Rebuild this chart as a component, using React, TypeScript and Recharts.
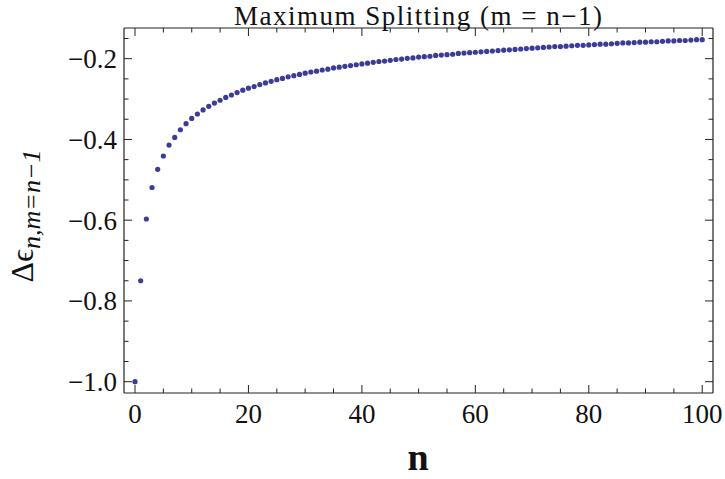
import React from "react";
import { ScatterChart, Scatter, XAxis, YAxis } from "recharts";

const nValues: number[] = [
  0, 1, 2, 3, 4, 5, 6, 7, 8, 9, 10, 11, 12, 13, 14, 15, 16, 17, 18, 19, 20,
  21, 22, 23, 24, 25, 26, 27, 28, 29, 30, 31, 32, 33, 34, 35, 36, 37, 38, 39, 40,
  41, 42, 43, 44, 45, 46, 47, 48, 49, 50, 51, 52, 53, 54, 55, 56, 57, 58, 59, 60,
  61, 62, 63, 64, 65, 66, 67, 68, 69, 70, 71, 72, 73, 74, 75, 76, 77, 78, 79, 80,
  81, 82, 83, 84, 85, 86, 87, 88, 89, 90, 91, 92, 93, 94, 95, 96, 97, 98, 99, 100,
];

const deltaValues: number[] = [
  -1.0, -0.75, -0.597, -0.519, -0.474, -0.441, -0.414, -0.395, -0.376, -0.361, -0.348,
  -0.337, -0.327, -0.318, -0.31, -0.303, -0.296, -0.29, -0.284, -0.278, -0.273,
  -0.269, -0.264, -0.26, -0.256, -0.252, -0.249, -0.245, -0.242, -0.239, -0.236,
  -0.233, -0.231, -0.228, -0.226, -0.223, -0.221, -0.219, -0.217, -0.215, -0.213,
  -0.211, -0.209, -0.207, -0.206, -0.204, -0.202, -0.201, -0.199, -0.198, -0.196,
  -0.195, -0.194, -0.192, -0.191, -0.19, -0.189, -0.187, -0.186, -0.185, -0.184,
  -0.183, -0.182, -0.181, -0.18, -0.179, -0.178, -0.177, -0.176, -0.175, -0.174,
  -0.173, -0.172, -0.171, -0.17, -0.17, -0.169, -0.168, -0.167, -0.167, -0.166,
  -0.165, -0.164, -0.164, -0.163, -0.162, -0.161, -0.161, -0.16, -0.159, -0.159,
  -0.158, -0.158, -0.157, -0.156, -0.156, -0.155, -0.155, -0.154, -0.153, -0.153,
];

const xTicks: number[] = [
  0, 5, 10, 15, 20, 25, 30, 35, 40, 45, 50, 55, 60, 65, 70, 75, 80, 85, 90, 95, 100,
];
const xMajorTicks: number[] = [0, 20, 40, 60, 80, 100];

const yTicks: number[] = [
  -1.0, -0.95, -0.9, -0.85, -0.8, -0.75, -0.7, -0.65, -0.6, -0.55, -0.5, -0.45,
  -0.4, -0.35, -0.3, -0.25, -0.2, -0.15,
];
const yMajorTicks: number[] = [-1.0, -0.8, -0.6, -0.4, -0.2];

const titleText = "Maximum Splitting (m = n\u22121)";
const xLabelText = "n";
const yLabelMain = "\u0394\u03f5";
const yLabelSub = "n,m=n\u22121";

const data = nValues.map((n, i) => ({ n, v: deltaValues[i] }));

const FONT = "'Liberation Serif', 'DejaVu Serif', serif";
const FRAME = "#222";
const POINT = "#3b3b98";
const MAJOR = 8;
const MINOR = 4.5;
const serif: React.CSSProperties = { fontFamily: FONT };

const isMajorX = (v: number) => xMajorTicks.some((t) => Math.abs(t - v) < 1e-6);
const isMajorY = (v: number) => yMajorTicks.some((t) => Math.abs(t - v) < 1e-6);
const fmtY = (v: number) => (v < 0 ? "\u2212" : "") + Math.abs(v).toFixed(1);

const BottomTick = (props: any) => {
  const { x, y, payload } = props;
  const major = isMajorX(payload.value);
  return (
    <g>
      <line x1={x} x2={x} y1={y} y2={y - (major ? MAJOR : MINOR)} stroke={FRAME} strokeWidth={1} />
      {major && (
        <text x={x} y={y + 30} textAnchor="middle" style={{ ...serif, fontSize: 27 }} fill="#111">
          {payload.value}
        </text>
      )}
    </g>
  );
};

const TopTick = (props: any) => {
  const { x, y, payload } = props;
  const major = isMajorX(payload.value);
  return <line x1={x} x2={x} y1={y} y2={y + (major ? MAJOR : MINOR)} stroke={FRAME} strokeWidth={1} />;
};

const LeftTick = (props: any) => {
  const { x, y, payload } = props;
  const major = isMajorY(payload.value);
  return (
    <g>
      <line x1={x} x2={x + (major ? MAJOR : MINOR)} y1={y} y2={y} stroke={FRAME} strokeWidth={1} />
      {major && (
        <text x={x - 7} y={y + 9.5} textAnchor="end" style={{ ...serif, fontSize: 27 }} fill="#111">
          {fmtY(payload.value)}
        </text>
      )}
    </g>
  );
};

const RightTick = (props: any) => {
  const { x, y, payload } = props;
  const major = isMajorY(payload.value);
  return <line x1={x} x2={x - (major ? MAJOR : MINOR)} y1={y} y2={y} stroke={FRAME} strokeWidth={1} />;
};

const Dot = (props: any) => {
  const { cx, cy } = props;
  return <circle cx={cx} cy={cy} r={2.6} fill={POINT} />;
};

export default function App() {
  const xDomain: [number, number] = [-1.94, 101.9];
  const yDomain: [number, number] = [-1.028, -0.124];
  return (
    <div style={{ position: "absolute", left: 0, top: 0, width: 725, height: 479, background: "#fff" }}>
      <ScatterChart width={725} height={479} margin={{ top: 23, right: 7, bottom: 46, left: 64 }}>
        <XAxis
          xAxisId="bottom"
          dataKey="n"
          type="number"
          orientation="bottom"
          domain={xDomain}
          allowDataOverflow
          ticks={xTicks}
          interval={0}
          height={40}
          tickSize={0}
          tickMargin={0}
          tickLine={false}
          tick={<BottomTick />}
          axisLine={{ stroke: FRAME, strokeWidth: 1.2 }}
        />
        <XAxis
          xAxisId="top"
          dataKey="n"
          type="number"
          orientation="top"
          domain={xDomain}
          allowDataOverflow
          ticks={xTicks}
          interval={0}
          height={5}
          tickSize={0}
          tickMargin={0}
          tickLine={false}
          tick={<TopTick />}
          axisLine={{ stroke: FRAME, strokeWidth: 1.2 }}
        />
        <YAxis
          yAxisId="left"
          dataKey="v"
          type="number"
          orientation="left"
          domain={yDomain}
          allowDataOverflow
          ticks={yTicks}
          interval={0}
          width={60}
          tickSize={0}
          tickMargin={0}
          tickLine={false}
          tick={<LeftTick />}
          axisLine={{ stroke: FRAME, strokeWidth: 1.2 }}
        />
        <YAxis
          yAxisId="right"
          dataKey="v"
          type="number"
          orientation="right"
          domain={yDomain}
          allowDataOverflow
          ticks={yTicks}
          interval={0}
          width={5}
          tickSize={0}
          tickMargin={0}
          tickLine={false}
          tick={<RightTick />}
          axisLine={{ stroke: FRAME, strokeWidth: 1.2 }}
        />
        <Scatter
          data={data}
          xAxisId="bottom"
          yAxisId="left"
          dataKey="v"
          shape={<Dot />}
          isAnimationActive={false}
        />
      </ScatterChart>
      <svg
        width={725}
        height={479}
        style={{ position: "absolute", left: 0, top: 0, pointerEvents: "none" }}
      >
        <text
          x={418}
          y={25}
          textAnchor="middle"
          textLength={368}
          lengthAdjust="spacing"
          style={{ ...serif, fontSize: 27 }}
          fill="#111"
        >
          {titleText}
        </text>
        <text x={418} y={470} textAnchor="middle" style={{ ...serif, fontSize: 38, fontWeight: "bold" }} fill="#111">
          {xLabelText}
        </text>
        <text
          x={0}
          y={0}
          transform="translate(33,216) rotate(-90)"
          textAnchor="middle"
          style={serif}
          fill="#111"
        >
          <tspan style={{ fontSize: 32 }}>{yLabelMain}</tspan>
          <tspan style={{ fontSize: 26, fontStyle: "italic" }} dy={7}>
            {yLabelSub}
          </tspan>
        </text>
      </svg>
    </div>
  );
}
